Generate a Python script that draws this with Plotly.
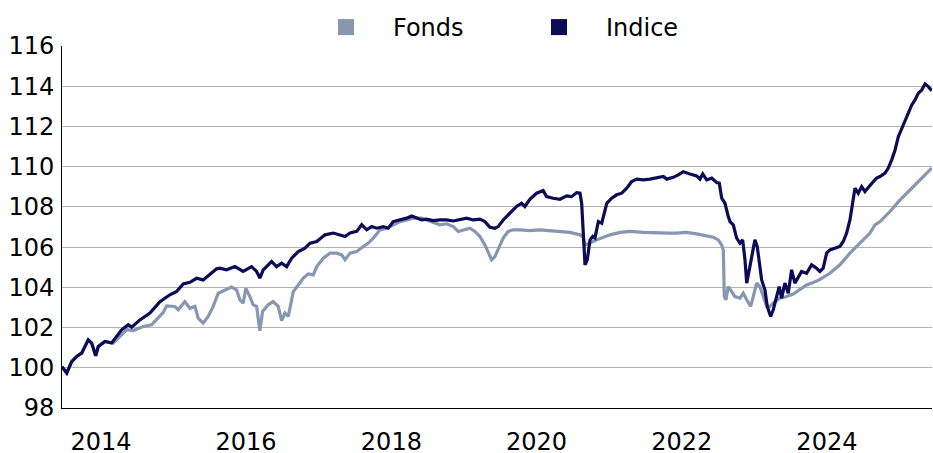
import plotly.graph_objects as go
from datetime import datetime

# Decimal-year time stamps and values
indice_t = [2013.463, 2013.528, 2013.596, 2013.665, 2013.734, 2013.825, 2013.872, 2013.927, 2013.963, 2014.055,
            2014.147, 2014.216, 2014.285, 2014.376, 2014.423, 2014.537, 2014.675, 2014.813, 2014.950, 2015.043,
            2015.134, 2015.226, 2015.318, 2015.409, 2015.501, 2015.594, 2015.639, 2015.731, 2015.846, 2015.960,
            2016.076, 2016.145, 2016.190, 2016.236, 2016.351, 2016.420, 2016.489, 2016.558, 2016.627, 2016.718,
            2016.810, 2016.879, 2016.971, 2017.085, 2017.200, 2017.292, 2017.361, 2017.430, 2017.522, 2017.591,
            2017.660, 2017.729, 2017.798, 2017.888, 2017.957, 2018.026, 2018.118, 2018.211, 2018.280, 2018.348,
            2018.417, 2018.486, 2018.577, 2018.669, 2018.762, 2018.853, 2018.945, 2019.037, 2019.128, 2019.220,
            2019.289, 2019.358, 2019.427, 2019.472, 2019.541, 2019.634, 2019.726, 2019.795, 2019.840, 2019.909,
            2020.001, 2020.092, 2020.139, 2020.230, 2020.322, 2020.415, 2020.483, 2020.552, 2020.598, 2020.621,
            2020.643, 2020.667, 2020.698, 2020.736, 2020.773, 2020.804, 2020.850, 2020.897, 2020.966, 2021.034,
            2021.103, 2021.172, 2021.241, 2021.310, 2021.379, 2021.470, 2021.562, 2021.654, 2021.745, 2021.792,
            2021.883, 2021.952, 2022.021, 2022.113, 2022.205, 2022.251, 2022.288, 2022.343, 2022.412, 2022.481,
            2022.517, 2022.550, 2022.595, 2022.641, 2022.664, 2022.710, 2022.756, 2022.802, 2022.839, 2022.871,
            2022.895, 2022.930, 2022.963, 2023.008, 2023.040, 2023.068, 2023.101, 2023.146, 2023.178, 2023.225,
            2023.261, 2023.307, 2023.343, 2023.376, 2023.421, 2023.467, 2023.514, 2023.559, 2023.605, 2023.651,
            2023.720, 2023.789, 2023.858, 2023.904, 2023.949, 2023.996, 2024.041, 2024.110, 2024.179, 2024.225,
            2024.271, 2024.317, 2024.354, 2024.386, 2024.431, 2024.478, 2024.523, 2024.592, 2024.638, 2024.684,
            2024.730, 2024.799, 2024.844, 2024.891, 2024.937, 2024.982, 2025.029, 2025.074, 2025.120, 2025.167,
            2025.212, 2025.257, 2025.304, 2025.350, 2025.395, 2025.442]
indice_v = [100.05, 99.74, 100.31, 100.56, 100.73, 101.39, 101.23, 100.60, 101.06, 101.31,
            101.23, 101.56, 101.89, 102.14, 102.02, 102.38, 102.72, 103.29, 103.63, 103.79,
            104.17, 104.25, 104.45, 104.37, 104.62, 104.92, 104.95, 104.87, 105.03, 104.79,
            105.03, 104.79, 104.46, 104.87, 105.28, 105.03, 105.20, 105.03, 105.45, 105.78,
            105.95, 106.20, 106.28, 106.61, 106.70, 106.61, 106.53, 106.70, 106.78, 107.11,
            106.86, 107.02, 106.94, 107.02, 106.94, 107.27, 107.35, 107.44, 107.55, 107.44,
            107.35, 107.39, 107.32, 107.35, 107.35, 107.30, 107.35, 107.44, 107.35, 107.39,
            107.27, 106.99, 106.94, 107.02, 107.35, 107.69, 108.02, 108.18, 108.02, 108.38,
            108.68, 108.81, 108.51, 108.43, 108.38, 108.55, 108.51, 108.71, 108.68, 108.18,
            106.53, 105.12, 105.37, 106.36, 106.53, 106.45, 107.27, 107.19, 108.18, 108.43,
            108.60, 108.68, 108.93, 109.26, 109.38, 109.34, 109.38, 109.43, 109.51, 109.38,
            109.47, 109.59, 109.75, 109.64, 109.54, 109.38, 109.64, 109.34, 109.43, 109.21,
            109.18, 108.43, 108.18, 107.52, 107.27, 107.11, 106.45, 106.20, 106.36, 105.37,
            104.21, 104.87, 105.53, 106.36, 106.03, 105.20, 104.37, 103.88, 103.05, 102.55,
            102.88, 103.54, 104.04, 103.46, 104.21, 103.71, 104.87, 104.21, 104.54, 104.79,
            104.70, 105.12, 104.95, 104.79, 104.95, 105.70, 105.86, 105.95, 106.03, 106.28,
            106.70, 107.35, 108.35, 108.93, 108.68, 109.01, 108.76, 109.09, 109.26, 109.43,
            109.51, 109.68, 109.93, 110.34, 110.83, 111.49, 111.91, 112.24, 112.65, 113.07,
            113.32, 113.65, 113.81, 114.11, 113.98, 113.78]

fonds_t = [2013.463, 2013.528, 2013.596, 2013.665, 2013.734, 2013.825, 2013.872, 2013.927, 2013.963, 2014.055,
           2014.169, 2014.262, 2014.354, 2014.445, 2014.583, 2014.698, 2014.767, 2014.858, 2014.905, 2015.019,
           2015.065, 2015.157, 2015.226, 2015.295, 2015.340, 2015.409, 2015.478, 2015.547, 2015.616, 2015.663,
           2015.731, 2015.800, 2015.869, 2015.915, 2015.960, 2015.997, 2016.052, 2016.098, 2016.145, 2016.190,
           2016.227, 2016.304, 2016.373, 2016.442, 2016.489, 2016.534, 2016.580, 2016.649, 2016.718, 2016.787,
           2016.855, 2016.924, 2016.971, 2017.062, 2017.154, 2017.247, 2017.316, 2017.361, 2017.430, 2017.522,
           2017.613, 2017.682, 2017.751, 2017.843, 2017.936, 2018.026, 2018.118, 2018.211, 2018.302, 2018.417,
           2018.486, 2018.577, 2018.669, 2018.762, 2018.853, 2018.922, 2018.991, 2019.083, 2019.152, 2019.220,
           2019.289, 2019.335, 2019.382, 2019.427, 2019.472, 2019.541, 2019.610, 2019.679, 2019.771, 2019.909,
           2020.047, 2020.185, 2020.322, 2020.460, 2020.598, 2020.643, 2020.667, 2020.736, 2020.828, 2020.919,
           2021.011, 2021.149, 2021.287, 2021.470, 2021.654, 2021.814, 2021.930, 2022.068, 2022.205, 2022.343,
           2022.434, 2022.503, 2022.550, 2022.572, 2022.586, 2022.609, 2022.641, 2022.687, 2022.733, 2022.802,
           2022.847, 2022.895, 2022.949, 2022.985, 2023.032, 2023.077, 2023.123, 2023.170, 2023.215, 2023.284,
           2023.353, 2023.445, 2023.536, 2023.628, 2023.720, 2023.811, 2023.894, 2024.041, 2024.179, 2024.317,
           2024.455, 2024.592, 2024.661, 2024.730, 2024.868, 2025.006, 2025.143, 2025.281, 2025.442]
fonds_v = [100.05, 99.74, 100.31, 100.56, 100.73, 101.39, 101.23, 100.60, 101.06, 101.31,
           101.23, 101.59, 101.89, 101.85, 102.05, 102.14, 102.38, 102.75, 103.08, 103.05,
           102.88, 103.29, 102.96, 103.05, 102.47, 102.22, 102.55, 103.05, 103.71, 103.79,
           103.88, 104.01, 103.88, 103.38, 103.21, 103.95, 103.54, 103.13, 103.05, 101.84,
           102.80, 103.13, 103.29, 103.05, 102.35, 102.72, 102.55, 103.79, 104.12, 104.46,
           104.67, 104.62, 105.03, 105.45, 105.70, 105.70, 105.61, 105.37, 105.70, 105.78,
           106.03, 106.20, 106.45, 106.86, 106.94, 107.11, 107.27, 107.35, 107.44, 107.44,
           107.35, 107.19, 107.11, 107.16, 107.02, 106.78, 106.86, 106.94, 106.78, 106.53,
           106.11, 105.70, 105.37, 105.53, 105.86, 106.45, 106.78, 106.86, 106.86, 106.82,
           106.86, 106.82, 106.78, 106.73, 106.61, 106.49, 106.11, 106.20, 106.36, 106.49,
           106.61, 106.73, 106.78, 106.73, 106.70, 106.70, 106.70, 106.73, 106.66, 106.56,
           106.49, 106.36, 106.11, 105.86, 103.54, 103.38, 104.04, 103.79, 103.54, 103.46,
           103.71, 103.38, 103.05, 103.54, 104.21, 104.04, 103.54, 103.05, 103.05, 103.29,
           103.46, 103.54, 103.67, 103.88, 104.12, 104.24, 104.37, 104.70, 105.12, 105.70,
           106.20, 106.70, 107.11, 107.27, 107.77, 108.35, 108.84, 109.34, 109.93]

series_names = ["Fonds", "Indice"]
series_colors = ["#8796b1", "#0b0b57"]
y_ticks = [98, 100, 102, 104, 106, 108, 110, 112, 114, 116]
x_range = [2013.463, 2025.446]


def to_date(t):
    y = int(t)
    a = datetime(y, 1, 1)
    b = datetime(y + 1, 1, 1)
    return a + (b - a) * (t - y)


fig = go.Figure()
for name, ts, vs, col in [(series_names[0], fonds_t, fonds_v, series_colors[0]),
                          (series_names[1], indice_t, indice_v, series_colors[1])]:
    fig.add_trace(go.Scatter(x=[to_date(t) for t in ts], y=vs, mode="lines", name=name,
                             line=dict(color=col, width=3.2), showlegend=False))
for name, col in zip(series_names, series_colors):
    fig.add_trace(go.Scatter(x=[None], y=[None], mode="markers", name=name,
                             marker=dict(symbol="square", size=17, color=col)))

font = dict(family="DejaVu Sans", size=24, color="#000000")
fig.update_layout(
    width=933, height=453,
    margin=dict(l=62, r=1, t=46, b=45, autoexpand=False),
    paper_bgcolor="white", plot_bgcolor="white",
    font=font,
    legend=dict(orientation="h", x=0.2724, xanchor="left", y=0.989, yanchor="bottom",
                font=font, entrywidth=114, entrywidthmode="pixels", itemwidth=84,
                bgcolor="rgba(0,0,0,0)"),
    xaxis=dict(type="date", range=[to_date(x_range[0]), to_date(x_range[1])],
               tick0="2014-01-01", dtick="M24", tickformat="%Y", automargin=False,
               showgrid=False, showline=True, linecolor="#000000", linewidth=1,
               ticks="", ticklabelstandoff=12, tickfont=font, zeroline=False),
    yaxis=dict(range=[98, 116], tickvals=y_ticks, showgrid=True, gridcolor="#b4b4b4",
               gridwidth=1, showline=True, linecolor="#000000", linewidth=1, automargin=False,
               ticks="", tickfont=font, zeroline=False, ticklabelstandoff=2),
)
fig.write_html("out.html", config={"displayModeBar": False},
               post_script="document.body.style.margin='0';")
